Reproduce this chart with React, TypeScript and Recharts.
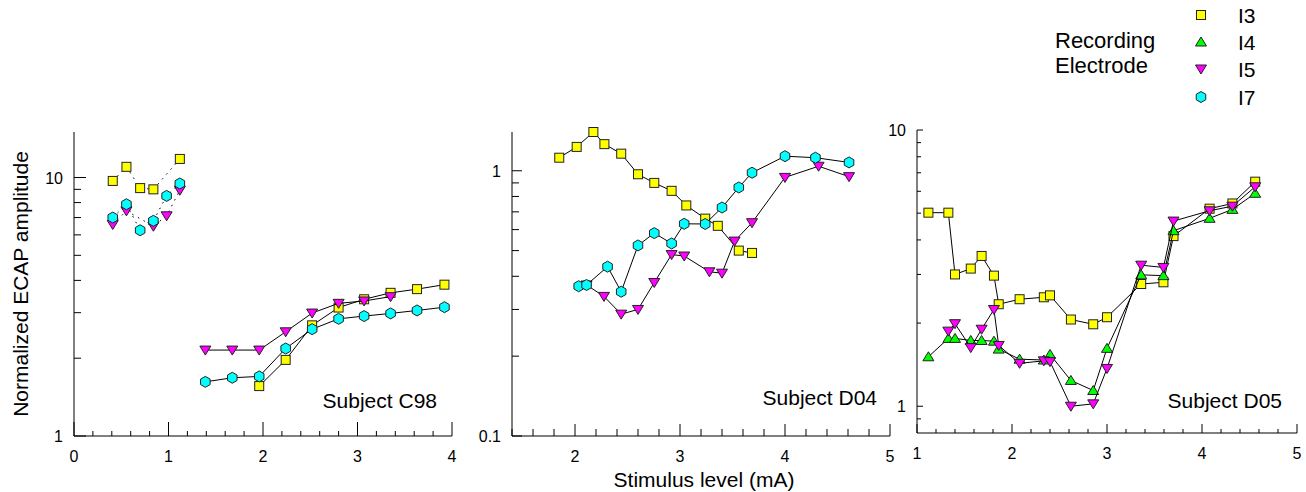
import { ScatterChart, Scatter, XAxis, YAxis } from 'recharts';

const FONT = '"Liberation Sans", Arial, Helvetica, sans-serif';

const electrodes = ['I3', 'I4', 'I5', 'I7'];
const markerColors: Record<string, string> = {
  I3: '#ffff00',
  I4: '#00ff00',
  I5: '#ff00ff',
  I7: '#00ffff',
};

// Subject C98: [stimulus (mA), normalized ECAP amplitude]
const c98I3Dotted = [[0.41, 9.7], [0.555, 11.0], [0.7, 9.1], [0.84, 9.0], [1.12, 11.8]];
const c98I5Dotted = [[0.41, 6.58], [0.555, 7.43], [0.84, 6.48], [0.98, 7.11], [1.12, 8.93]];
const c98I7Dotted = [[0.41, 7.0], [0.555, 7.88], [0.7, 6.25], [0.84, 6.8], [0.98, 8.49], [1.12, 9.48]];
const c98I3 = [[1.96, 1.56], [2.24, 1.97], [2.52, 2.68], [2.8, 3.14], [3.07, 3.38], [3.35, 3.58], [3.63, 3.7], [3.92, 3.85]];
const c98I5 = [[1.39, 2.15], [1.675, 2.15], [1.96, 2.15], [2.24, 2.53], [2.52, 2.99], [2.8, 3.26], [3.07, 3.33], [3.35, 3.46]];
const c98I7 = [[1.39, 1.62], [1.675, 1.68], [1.96, 1.7], [2.24, 2.18], [2.52, 2.59], [2.8, 2.84], [3.07, 2.91], [3.35, 2.98], [3.63, 3.06], [3.92, 3.15]];

// Subject D04
const d04I3 = [[1.85, 1.12], [2.016, 1.23], [2.175, 1.4], [2.28, 1.26], [2.44, 1.16], [2.6, 0.97], [2.755, 0.9], [2.92, 0.84], [3.06, 0.74], [3.24, 0.66], [3.36, 0.62], [3.56, 0.5], [3.686, 0.49]];
const d04I5 = [[2.11, 0.371], [2.276, 0.336], [2.44, 0.288], [2.6, 0.3], [2.755, 0.379], [2.92, 0.483], [3.04, 0.477], [3.28, 0.416], [3.4, 0.411], [3.52, 0.543], [3.686, 0.637], [4.0, 0.944], [4.32, 1.04], [4.61, 0.95]];
const d04I7 = [[2.035, 0.367], [2.11, 0.371], [2.31, 0.435], [2.44, 0.35], [2.6, 0.523], [2.755, 0.582], [2.92, 0.532], [3.04, 0.631], [3.24, 0.63], [3.4, 0.727], [3.56, 0.865], [3.686, 0.983], [4.0, 1.135], [4.29, 1.12], [4.61, 1.075]];

// Subject D05
const d05I3 = [[1.12, 5.02], [1.33, 5.02], [1.4, 3.0], [1.566, 3.15], [1.68, 3.5], [1.81, 2.97], [1.86, 2.34], [2.08, 2.44], [2.335, 2.48], [2.4, 2.52], [2.62, 2.06], [2.855, 1.98], [3.0, 2.1], [3.36, 2.77], [3.594, 2.81], [3.7, 4.13], [4.08, 5.19], [4.32, 5.42], [4.56, 6.5]];
const d05I4 = [[1.12, 1.51], [1.33, 1.76], [1.4, 1.76], [1.566, 1.73], [1.68, 1.73], [1.81, 1.72], [1.86, 1.61], [2.08, 1.48], [2.335, 1.47], [2.4, 1.54], [2.62, 1.24], [2.855, 1.14], [3.0, 1.62], [3.36, 2.99], [3.594, 2.97], [3.7, 4.32], [4.08, 4.79], [4.32, 5.16], [4.56, 5.9]];
const d05I5 = [[1.33, 1.87], [1.4, 1.99], [1.566, 1.63], [1.68, 1.9], [1.81, 2.24], [1.86, 1.66], [2.08, 1.43], [2.335, 1.46], [2.4, 1.45], [2.62, 1.0], [2.855, 1.02], [3.0, 1.37], [3.36, 3.24], [3.594, 3.18], [3.7, 4.68], [4.08, 5.1], [4.32, 5.3], [4.56, 6.23]];

// axis ticks
const c98XTicks = [0, 0.2, 0.4, 0.6, 0.8, 1, 1.2, 1.4, 1.6, 1.8, 2, 2.2, 2.4, 2.6, 2.8, 3, 3.2, 3.4, 3.6, 3.8, 4];
const c98XLabels = [0, 1, 2, 3, 4];
const c98YTicks = [1, 2, 3, 4, 5, 6, 7, 8, 9, 10];
const c98YLabels = [1, 10];

const d04XTicks = [1.4, 1.6, 1.8, 2, 2.2, 2.4, 2.6, 2.8, 3, 3.2, 3.4, 3.6, 3.8, 4, 4.2, 4.4, 4.6, 4.8, 5];
const d04XLabels = [2, 3, 4, 5];
const d04YTicks = [0.1, 0.2, 0.3, 0.4, 0.5, 0.6, 0.7, 0.8, 0.9, 1];
const d04YLabels = [0.1, 1];

const d05XTicks = [1, 1.2, 1.4, 1.6, 1.8, 2, 2.2, 2.4, 2.6, 2.8, 3, 3.2, 3.4, 3.6, 3.8, 4, 4.2, 4.4, 4.6, 4.8, 5];
const d05XLabels = [1, 2, 3, 4, 5];
const d05YTicks = [0.9, 1, 2, 3, 4, 5, 6, 7, 8, 9, 10];
const d05YLabels = [1, 10];

const toPoints = (rows: number[][]) => rows.map(([x, y]) => ({ x, y }));

const Marker = ({ cx, cy, kind }: { cx: number; cy: number; kind: string }) => {
  const fill = markerColors[kind];
  const stroke = '#222';
  if (kind === 'I3') {
    return <rect x={cx - 4.5} y={cy - 4.5} width={9} height={9} fill={fill} stroke={stroke} strokeWidth={1} />;
  }
  if (kind === 'I4') {
    return <polygon points={`${cx},${cy - 5} ${cx + 5.5},${cy + 4} ${cx - 5.5},${cy + 4}`} fill={fill} stroke={stroke} strokeWidth={1} />;
  }
  if (kind === 'I5') {
    return <polygon points={`${cx - 5.5},${cy - 4} ${cx + 5.5},${cy - 4} ${cx},${cy + 5}`} fill={fill} stroke={stroke} strokeWidth={1} />;
  }
  const r = 5.5;
  const pts = [-90, -30, 30, 90, 150, 210]
    .map((a) => `${cx + r * Math.cos((a * Math.PI) / 180)},${cy + r * Math.sin((a * Math.PI) / 180)}`)
    .join(' ');
  return <polygon points={pts} fill={fill} stroke={stroke} strokeWidth={1} />;
};

const isIn = (list: number[], v: number) => list.some((l) => Math.abs(l - v) < 1e-6);

const makeXTick = (labels: number[], major: number, minor: number) => (props: any) => {
  const { x, y, payload } = props;
  const v = payload.value;
  const big = isIn(labels, v);
  return (
    <g>
      <line x1={x} y1={y} x2={x} y2={y - (big ? major : minor)} stroke="#000" strokeWidth={1} />
      {big && (
        <text x={x} y={y + 26} textAnchor="middle" fontSize={16} fontFamily={FONT} fill="#000">
          {v}
        </text>
      )}
    </g>
  );
};

const makeYTick = (labels: number[], major: number, minor: number) => (props: any) => {
  const { x, y, payload } = props;
  const v = payload.value;
  const big = isIn(labels, v);
  return (
    <g>
      <line x1={x} y1={y} x2={x + (big ? major : minor)} y2={y} stroke="#000" strokeWidth={1} />
      {big && (
        <text x={x - 11} y={y + 6} textAnchor="end" fontSize={16} fontFamily={FONT} fill="#000">
          {v}
        </text>
      )}
    </g>
  );
};

type Series = { kind: string; data: number[][]; dotted?: boolean };

interface PanelProps {
  plotLeft: number;
  plotTop: number;
  plotW: number;
  plotH: number;
  yAxisW: number;
  xDomain: [number, number];
  xTicks: number[];
  xLabels: number[];
  yDomain: [number, number];
  yTicks: number[];
  yLabels: number[];
  xTick: [number, number];
  yTick: [number, number];
  series: Series[];
  yTitle?: string;
  xTitle?: string;
}

const Panel = (p: PanelProps) => {
  const right = 9;
  const top = 10;
  const xAxisH = 56;
  const width = p.yAxisW + p.plotW + right;
  const height = top + p.plotH + xAxisH;
  return (
    <div style={{ position: 'absolute', left: p.plotLeft - p.yAxisW, top: p.plotTop - top }}>
      <ScatterChart width={width} height={height} margin={{ top, right, bottom: 0, left: 0 }}>
        <XAxis
          type="number"
          dataKey="x"
          domain={p.xDomain}
          ticks={p.xTicks}
          interval={0}
          height={xAxisH}
          tickSize={0}
          tickMargin={0}
          tickLine={false}
          axisLine={{ stroke: '#000', strokeWidth: 1 }}
          tick={makeXTick(p.xLabels, p.xTick[0], p.xTick[1])}
          label={
            p.xTitle
              ? {
                  content: ({ viewBox }: any) => (
                    <text
                      x={viewBox.x + viewBox.width / 2 + 3}
                      y={viewBox.y + 51}
                      textAnchor="middle"
                      fontSize={21}
                      fontFamily={FONT}
                      fill="#000"
                    >
                      {p.xTitle}
                    </text>
                  ),
                }
              : undefined
          }
        />
        <YAxis
          type="number"
          dataKey="y"
          scale="log"
          domain={p.yDomain}
          ticks={p.yTicks}
          interval={0}
          width={p.yAxisW}
          tickSize={0}
          tickMargin={0}
          tickLine={false}
          axisLine={{ stroke: '#000', strokeWidth: 1 }}
          tick={makeYTick(p.yLabels, p.yTick[0], p.yTick[1])}
          label={
            p.yTitle
              ? {
                  content: ({ viewBox }: any) => {
                    const cx = viewBox.x + 28;
                    const cy = viewBox.y + viewBox.height / 2;
                    return (
                      <text
                        x={cx}
                        y={cy}
                        transform={`rotate(-90 ${cx} ${cy})`}
                        textAnchor="middle"
                        fontSize={21}
                        fontFamily={FONT}
                        fill="#000"
                      >
                        {p.yTitle}
                      </text>
                    );
                  },
                }
              : undefined
          }
        />
        {p.series.map((s, i) => (
          <Scatter
            key={i}
            data={toPoints(s.data)}
            isAnimationActive={false}
            line={{ stroke: '#000', strokeWidth: 1, strokeDasharray: s.dotted ? '1.5 5' : undefined }}
            shape={(sp: any) => <Marker cx={sp.cx} cy={sp.cy} kind={s.kind} />}
          />
        ))}
      </ScatterChart>
    </div>
  );
};

const legendRows = [15, 42, 69, 97];

const App = () => {
  return (
    <div style={{ position: 'absolute', left: 0, top: 0, width: 1306, height: 492, background: '#fff', fontFamily: FONT }}>
      <Panel
        plotLeft={74}
        plotTop={132}
        plotW={378}
        plotH={304}
        yAxisW={74}
        xDomain={[0, 4]}
        xTicks={c98XTicks}
        xLabels={c98XLabels}
        yDomain={[1, 15]}
        yTicks={c98YTicks}
        yLabels={c98YLabels}
        xTick={[14, 5]}
        yTick={[12, 7]}
        yTitle="Normalized ECAP amplitude"
        series={[
          { kind: 'I3', data: c98I3Dotted, dotted: true },
          { kind: 'I5', data: c98I5Dotted, dotted: true },
          { kind: 'I7', data: c98I7Dotted, dotted: true },
          { kind: 'I3', data: c98I3 },
          { kind: 'I5', data: c98I5 },
          { kind: 'I7', data: c98I7 },
        ]}
      />
      <Panel
        plotLeft={512}
        plotTop={132}
        plotW={378}
        plotH={304}
        yAxisW={40}
        xDomain={[1.4, 5]}
        xTicks={d04XTicks}
        xLabels={d04XLabels}
        yDomain={[0.1, 1.4]}
        yTicks={d04YTicks}
        yLabels={d04YLabels}
        xTick={[12, 7]}
        yTick={[10, 7]}
        xTitle="Stimulus level (mA)"
        series={[
          { kind: 'I3', data: d04I3 },
          { kind: 'I5', data: d04I5 },
          { kind: 'I7', data: d04I7 },
        ]}
      />
      <Panel
        plotLeft={917}
        plotTop={130}
        plotW={380}
        plotH={303}
        yAxisW={40}
        xDomain={[1, 5]}
        xTicks={d05XTicks}
        xLabels={d05XLabels}
        yDomain={[0.8, 10]}
        yTicks={d05YTicks}
        yLabels={d05YLabels}
        xTick={[9, 4]}
        yTick={[6, 4]}
        series={[
          { kind: 'I3', data: d05I3 },
          { kind: 'I4', data: d05I4 },
          { kind: 'I5', data: d05I5 },
        ]}
      />
      <svg
        width={1306}
        height={492}
        style={{ position: 'absolute', left: 0, top: 0, pointerEvents: 'none' }}
        fontFamily={FONT}
      >
        <text x={437} y={408} textAnchor="end" fontSize={21} fill="#000">Subject C98</text>
        <text x={877} y={405} textAnchor="end" fontSize={21} fill="#000">Subject D04</text>
        <text x={1282} y={408} textAnchor="end" fontSize={21} fill="#000">Subject D05</text>
        <text x={1055} y={48} fontSize={22} fill="#000">Recording</text>
        <text x={1055} y={73} fontSize={22} fill="#000">Electrode</text>
        {electrodes.map((e, i) => (
          <g key={e}>
            <Marker cx={1201} cy={legendRows[i]} kind={e} />
            <text x={1238} y={legendRows[i] + 8} fontSize={21} fill="#000">{e}</text>
          </g>
        ))}
      </svg>
    </div>
  );
};

export default App;
